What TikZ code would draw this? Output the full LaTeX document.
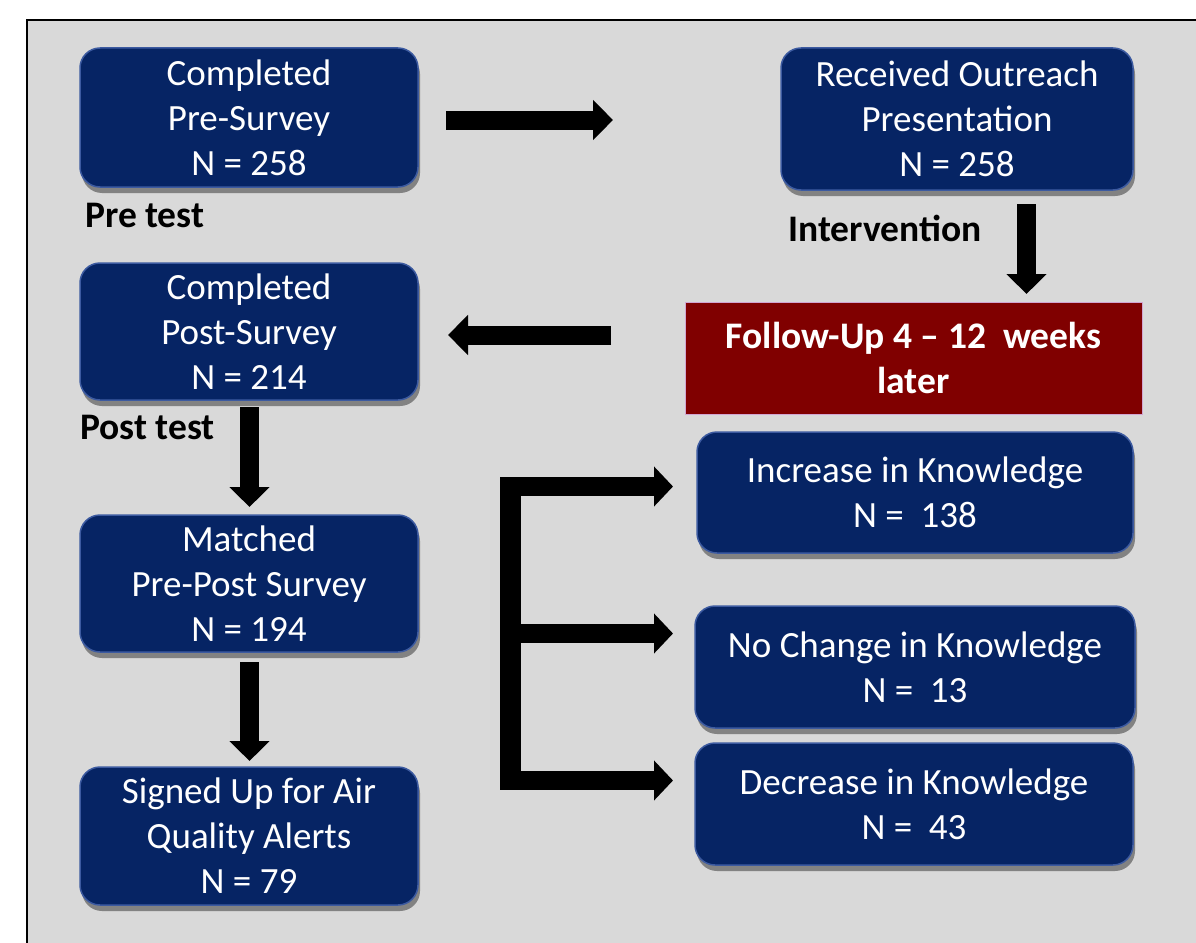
\documentclass[tikz,border=0pt]{standalone}
\usepackage{fontspec}
\setmainfont{Carlito}
\usetikzlibrary{arrows.meta,shadows}
\definecolor{navy}{RGB}{6,36,100}
\definecolor{navyedge}{RGB}{60,90,160}
\definecolor{panel}{RGB}{217,217,217}
\definecolor{darkred}{RGB}{128,0,0}
\begin{document}
\begin{tikzpicture}[x=1pt,y=-1pt,
  bluebox/.style={rectangle, rounded corners=20pt, fill=navy, draw=navyedge,
    line width=1.5pt, text=white, align=center, inner sep=0pt,
    font=\fontsize{37}{45}\selectfont, text depth=-10pt,
    drop shadow={shadow xshift=2pt, shadow yshift=-6pt, opacity=0.4, fill=black}},
  redbox/.style={rectangle, fill=darkred, draw=violet!35, line width=0.8pt,
    text=white, align=center, inner sep=0pt,
    font=\bfseries\fontsize{37.5}{45}\selectfont},
  lab/.style={font=\bfseries\fontsize{37.5}{45}\selectfont, anchor=west, inner sep=0pt},
  blockarrow/.style={line width=19pt, -{Triangle[width=39pt,length=20pt]}, black},
  armarrow/.style={line width=19pt, -{Triangle[width=39pt,length=19pt]}, black}]
\useasboundingbox (0,0) rectangle (1196,942);
\fill[white] (0,0) rectangle (1196,942);
\draw[fill=panel, line width=2pt] (27,20) rectangle (1210,960);

% boxes
\node[bluebox, minimum width=338pt, minimum height=139pt] (pre) at (249,117.5)
  {Completed\\Pre-Survey\\N = 258};
\node[bluebox, minimum width=352pt, minimum height=142pt] (outreach) at (957,119)
  {Received Outreach\\Presentation\\N = 258};
\node[bluebox, minimum width=338pt, minimum height=137pt] (post) at (249,331.5)
  {Completed\\Post-Survey\\N = 214};
\node[bluebox, minimum width=338pt, minimum height=137pt] (matched) at (249,583.5)
  {Matched\\Pre-Post Survey\\N = 194};
\node[bluebox, minimum width=338pt, minimum height=138pt] (alerts) at (249,836)
  {Signed Up for Air\\Quality Alerts\\N = 79};
\node[bluebox, minimum width=436pt, minimum height=121pt] (inc) at (915,492.5)
  {Increase in Knowledge\\N =\ \ 138};
\node[bluebox, minimum width=440pt, minimum height=122pt] (nochange) at (915,667)
  {No Change in Knowledge\\N =\ \ 13};
\node[bluebox, minimum width=438pt, minimum height=122pt] (dec) at (914,804)
  {Decrease in Knowledge\\N =\ \ 43};
\node[redbox, minimum width=457pt, minimum height=112pt] (follow) at (913.5,358)
  {Follow-Up 4 – 12\ \ weeks\\later};

% labels
\node[lab] (pretest) at (85,215) {Pre test};
\node[lab] (interv) at (788,228) {Intervention};
\node[lab] (posttest) at (80,427) {Post test};

% arrow end points
\coordinate (a1s) at (446,120);
\coordinate (a1e) at (613,120);
\coordinate (a2s) at (1026.5,204);
\coordinate (a2e) at (1026.5,294);
\coordinate (a3s) at (611,335);
\coordinate (a3e) at (448,335);
\coordinate (a4s) at (249.5,407);
\coordinate (a4e) at (249.5,507);
\coordinate (a5s) at (249.5,662);
\coordinate (a5e) at (249.5,761);

\draw[blockarrow] (a1s) -- (a1e);
\draw[blockarrow] (a2s) -- (a2e);
\draw[blockarrow] (a3s) -- (a3e);
\draw[blockarrow] (a4s) -- (a4e);
\draw[blockarrow] (a5s) -- (a5e);

% bracket
\coordinate (brtop) at (510.5,477);
\coordinate (brbot) at (510.5,790);
\coordinate (b1s) at (500,486.5);
\coordinate (b1e) at (673,486.5);
\coordinate (b2s) at (510,633.5);
\coordinate (b2e) at (673,633.5);
\coordinate (b3s) at (500,780.5);
\coordinate (b3e) at (673,780.5);
\draw[line width=21pt, black] (brtop) -- (brbot);
\draw[armarrow] (b1s) -- (b1e);
\draw[armarrow] (b2s) -- (b2e);
\draw[armarrow] (b3s) -- (b3e);
\end{tikzpicture}
\end{document}
